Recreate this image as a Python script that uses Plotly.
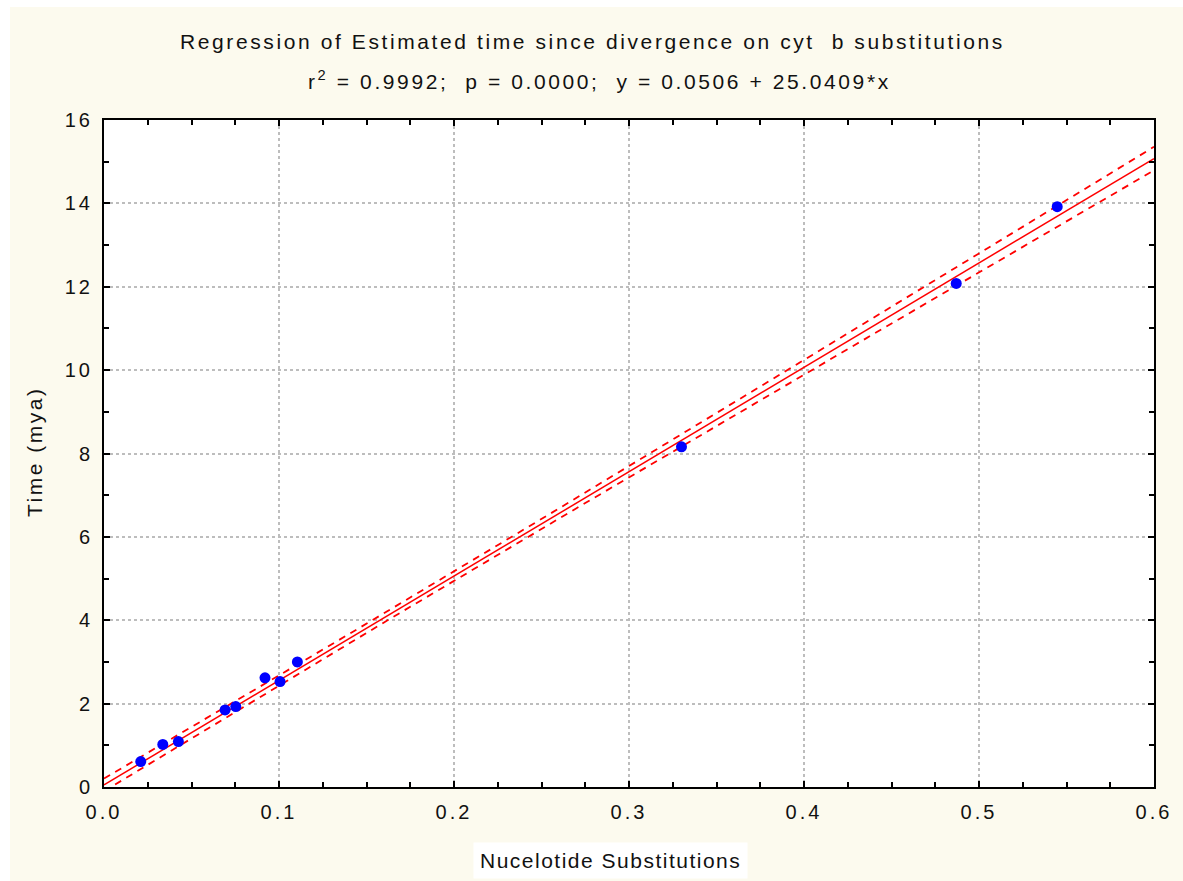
import numpy as np
import plotly.graph_objects as go

# Data
subs = [0.021, 0.0336, 0.0425, 0.0692, 0.0753, 0.092, 0.1006, 0.1105, 0.330, 0.487, 0.5447]
time_mya = [0.61, 1.02, 1.09, 1.85, 1.93, 2.62, 2.53, 3.00, 8.16, 12.08, 13.92]

intercept = 0.0506
slope = 25.0409

title_line1 = "Regression of Estimated time since divergence on cyt  b substitutions"
title_line2 = "r<sup>2</sup> = 0.9992;  p = 0.0000;  y = 0.0506 + 25.0409*x"
x_title = "Nucelotide Substitutions"
y_title = "Time (mya)"

x_ticks = [0.0, 0.1, 0.2, 0.3, 0.4, 0.5, 0.6]
y_ticks = [0, 2, 4, 6, 8, 10, 12, 14, 16]

# Regression line and 95% confidence bands of the mean
xa = np.array(subs)
ya = np.array(time_mya)
n = len(xa)
resid = ya - (intercept + slope * xa)
s = np.sqrt(np.sum(resid ** 2) / (n - 2))
sxx = np.sum((xa - xa.mean()) ** 2)
t_crit = 2.262
xl = np.linspace(0, 0.6, 121)
yl = intercept + slope * xl
half = t_crit * s * np.sqrt(1.0 / n + (xl - xa.mean()) ** 2 / sxx)


def spaced(t, sp=2.5):
    return f"<span style='letter-spacing:{sp}px'>{t}</span>"


cream = "#FCFAEE"
fig = go.Figure()
band_style = dict(color="#FF0000", width=1.8, dash="7px,6px")
fig.add_trace(go.Scatter(x=xl, y=yl + half, mode="lines", line=band_style, hoverinfo="skip"))
fig.add_trace(go.Scatter(x=xl, y=yl - half, mode="lines", line=band_style, hoverinfo="skip"))
fig.add_trace(go.Scatter(x=xl, y=yl, mode="lines",
                         line=dict(color="#FF0000", width=1.5), hoverinfo="skip"))
fig.add_trace(go.Scatter(x=subs, y=time_mya, mode="markers",
                         marker=dict(color="#0000FF", size=11)))

font_family = "Liberation Sans, Arial, sans-serif"
txt_color = "#111111"
axis_common = dict(
    showline=True, linecolor="black", linewidth=2, mirror="ticks",
    ticks="inside", ticklen=6, tickcolor="black", tickwidth=1.5,
    showgrid=True, gridcolor="#BDBDBD", gridwidth=1.5, griddash="dot",
    zeroline=False,
    tickfont=dict(family=font_family, size=20, color=txt_color),
)

fig.update_xaxes(range=[0, 0.6], tickvals=x_ticks,
                 ticktext=[spaced(f"{v:.1f}", 3) for v in x_ticks],
                 minor=dict(dtick=0.025, ticks="inside", ticklen=5, tickcolor="black", showgrid=False),
                 ticklabelstandoff=6,
                 **axis_common)
fig.update_yaxes(range=[0, 16], tickvals=y_ticks,
                 ticktext=[spaced(str(v), 3) for v in y_ticks],
                 minor=dict(dtick=1, ticks="inside", ticklen=5, tickcolor="black", showgrid=False),
                 ticklabelstandoff=5,
                 **axis_common)

OX, OY = 10, 7  # white page border left / top
W, H = 1183 - OX, 881 - OY
L, R, T, B = 104 - OX, 1183 - 1154, 120 - OY, 881 - 787
pw, ph = W - L - R, H - T - B


def px(xp):
    return (xp - OX - L) / pw


def py(yp):
    return (H - B - (yp - OY)) / ph


ann_common = dict(xref="paper", yref="paper", showarrow=False,
                  xanchor="center", yanchor="middle")
annotations = [
    dict(text=spaced(title_line1, 2.6), x=px(592), y=py(42),
         font=dict(family=font_family, size=21, color=txt_color), **ann_common),
    dict(text=spaced(title_line2, 2.6), x=px(599), y=py(80),
         font=dict(family=font_family, size=21, color=txt_color), **ann_common),
    dict(text=spaced(x_title, 1.5), x=px(610), y=py(860), bgcolor="white", borderpad=6,
         font=dict(family=font_family, size=21, color=txt_color), **ann_common),
    dict(text=spaced(y_title, 2.5), x=px(34), y=py(452), textangle=-90,
         font=dict(family=font_family, size=21, color=txt_color), **ann_common),
]

fig.update_layout(
    width=W, height=H,
    margin=dict(l=L, r=R, t=T, b=B),
    paper_bgcolor=cream, plot_bgcolor="white",
    showlegend=False,
    annotations=annotations,
)

page_js = (
    f"document.body.style.margin='{OY}px 0 0 {OX}px';"
    "document.body.style.overflow='hidden';"
    "document.documentElement.style.overflow='hidden';"
)
fig.write_html("out.html", post_script=page_js)
